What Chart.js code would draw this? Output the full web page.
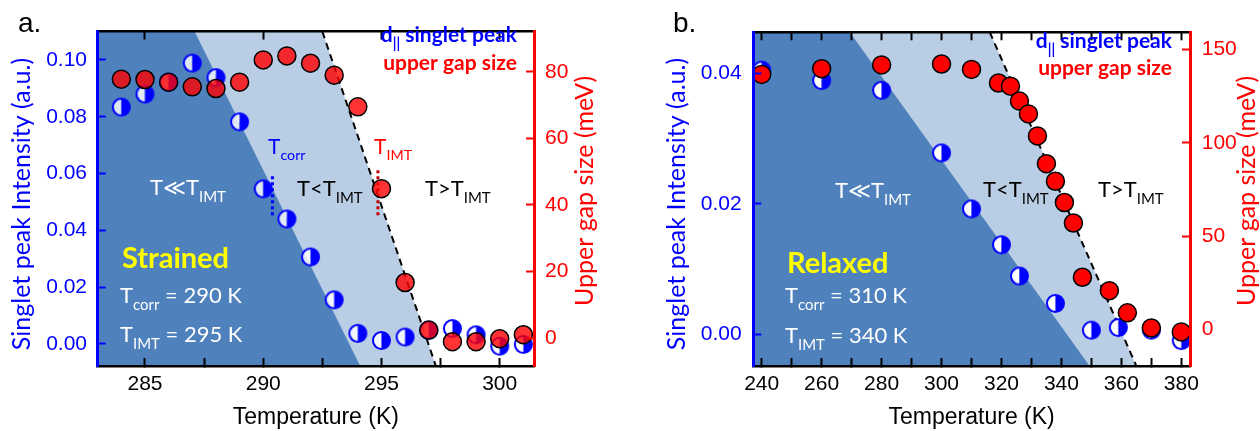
<!DOCTYPE html>
<html>
<head>
<meta charset="utf-8">
<script src="https://cdn.jsdelivr.net/npm/chart.js@4.4.1/dist/chart.umd.min.js"></script>
<style>
  html, body { margin: 0; padding: 0; background: #fff; }
  #wrap { position: relative; width: 1260px; height: 431px; }
  .panel { position: absolute; top: 0; width: 630px; height: 431px; }
</style>
</head>
<body>
<div id="wrap">
  <div class="panel" style="left:0"><canvas id="chartA" width="630" height="431"></canvas></div>
  <div class="panel" style="left:630px"><canvas id="chartB" width="630" height="431"></canvas></div>
</div>
<script>
// ---- panel a: strained film ----
const tempA = [284, 285, 286, 287, 288, 289, 290, 291, 292, 293, 294, 295, 296, 297, 298, 299, 300, 301];
const singletA = [0.0834, 0.0880, 0.0922, 0.0989, 0.0938, 0.0782, 0.0546, 0.0440, 0.0306, 0.0155, 0.0037, 0.0012, 0.0024, 0.0048, 0.0054, 0.0032, -0.0008, -0.0002];
const gapA = [77.8, 77.7, 76.9, 75.5, 75.0, 76.9, 83.6, 84.8, 82.6, 79.0, 69.5, 44.9, 16.7, 2.4, -1.1, -1.1, -0.2, 1.0];
const xRangeA = [283, 301.45];
const singletRangeA = [-0.0078, 0.110];
const gapRangeA = [-8.4, 92.1];
const xTicksA = [285, 287.5, 290, 292.5, 295, 297.5, 300];
const xLabelsA = [285, 290, 295, 300];
const singletTicksA = [0, 0.02, 0.04, 0.06, 0.08, 0.10];
const gapTicksA = [0, 20, 40, 60, 80];
// temperature where each shaded region ends, at the top and at the bottom of the plot
const darkEdgeA = [287.1, 294.1];
const lightEdgeA = [292.5, 297.3];
// dotted markers under the T_corr / T_IMT labels
const tcorrLineA = [[290.39, 0.0453], [290.39, 0.0601]];
const timtLineA = [[294.85, 0.0453], [294.85, 0.0614]];

// ---- panel b: relaxed film ----
const tempSingletB = [240, 260, 280, 300, 310, 320, 326, 338, 350, 359, 370, 380];
const singletB = [0.0405, 0.0389, 0.0374, 0.0278, 0.0192, 0.0137, 0.0089, 0.0047, 0.0006, 0.0010, 0.0006, -0.0010];
const tempGapB = [240, 260, 280, 300, 310, 319, 323, 326, 329, 332, 335, 338, 341, 344, 347, 356, 362, 370, 380];
const gapB = [136.7, 139.8, 141.8, 142.3, 139.4, 132.1, 130.4, 122.4, 115.5, 103.7, 88.8, 79.4, 68.0, 57.0, 27.9, 20.7, 8.8, 0.7, -1.4];
const xRangeB = [237.2, 382.9];
const singletRangeB = [-0.0049, 0.0463];
const gapRangeB = [-19.7, 159.3];
const xTicksB = [240, 250, 260, 270, 280, 290, 300, 310, 320, 330, 340, 350, 360, 370, 380];
const xLabelsB = [240, 260, 280, 300, 320, 340, 360, 380];
const singletTicksB = [0, 0.02, 0.04];
const gapTicksB = [0, 50, 100, 150];
const darkEdgeB = [269.4, 349.4];
const lightEdgeB = [316.1, 365.0];

const AXIS_FONT = "'Liberation Sans', Arial, sans-serif";
const NOTE_FONT = "Lato, 'Open Sans', sans-serif";
const BLUE = '#0000ff';
const RED = '#ff0000';

// half filled disc used for the singlet peak points
function halfDisc(leftColor) {
  const r = 8.5, lw = 2, s = 2 * (r + lw);
  const c = document.createElement('canvas');
  c.width = s; c.height = s;
  const g = c.getContext('2d');
  const m = s / 2;
  g.beginPath(); g.arc(m, m, r, Math.PI / 2, Math.PI * 1.5); g.closePath();
  g.fillStyle = leftColor; g.fill();
  g.beginPath(); g.arc(m, m, r, -Math.PI / 2, Math.PI / 2); g.closePath();
  g.fillStyle = BLUE; g.fill();
  g.beginPath(); g.arc(m, m, r, 0, Math.PI * 2);
  g.lineWidth = lw; g.strokeStyle = BLUE; g.stroke();
  return c;
}

// text with optional subscripts: plain strings are normal runs, [str] is a subscript
function drawNote(ctx, n) {
  ctx.save();
  ctx.fillStyle = n.color;
  ctx.textBaseline = n.rot ? 'middle' : 'alphabetic';
  const family = n.family || NOTE_FONT;
  const weight = n.bold ? 'bold ' : '';
  const runs = n.parts.map(part => {
    const sub = Array.isArray(part);
    const font = weight + (sub ? n.size * 0.68 : n.size) + 'px ' + family;
    ctx.font = font;
    const text = sub ? part[0] : part;
    return { text, font, sub, w: ctx.measureText(text).width };
  });
  const total = runs.reduce((s, r) => s + r.w, 0);
  ctx.translate(n.x, n.y);
  if (n.rot) ctx.rotate(-Math.PI / 2);
  let x = n.align === 'right' ? -total : (n.align === 'center' ? -total / 2 : 0);
  runs.forEach(r => {
    ctx.font = r.font;
    ctx.fillText(r.text, x, r.sub ? n.size * 0.3 : 0);
    x += r.w;
  });
  ctx.restore();
}

function notesPlugin(notes) {
  return {
    id: 'notes',
    afterDraw(chart) { notes.forEach(n => drawNote(chart.ctx, n)); }
  };
}

function region(xStart, edge, yr) {
  return [{ x: xStart, y: yr[1] }, { x: edge[0], y: yr[1] }, { x: edge[1], y: yr[0] }];
}

function buildPanel(canvasId, p) {
  const tickFont = { family: AXIS_FONT, size: 21 };
  const setTicks = vals => axis => { axis.ticks = vals.map(v => ({ value: v })); };
  const toPts = (xs, ys) => xs.map((x, i) => ({ x: x, y: ys[i] }));
  // ticks point into the plot, drawn above the shaded regions
  const tickGrid = color => ({ drawOnChartArea: false, tickLength: -8, tickWidth: 2, tickColor: color, z: 1 });
  const xr = p.xRange, yr = p.singletRange;

  const datasets = [
    { label: 'upper gap size', data: toPts(p.tempGap, p.gap), yAxisID: 'y1',
      pointStyle: 'circle', pointRadius: 9, backgroundColor: p.redFill,
      borderColor: '#000', borderWidth: 1.5, clip: false, order: 0 },
    { label: 'singlet peak', data: toPts(p.tempSinglet, p.singlet), yAxisID: 'y',
      pointStyle: halfDisc(p.halfFill), pointRadius: 10, clip: false, order: 1 }
  ];
  p.markLines.forEach(m => datasets.push({
    type: 'line', data: m.pts.map(q => ({ x: q[0], y: q[1] })), yAxisID: 'y',
    borderColor: m.color, borderWidth: 3, borderDash: [3, 3], pointRadius: 0, fill: false, order: 2
  }));
  datasets.push(
    { type: 'line', data: [{ x: p.lightEdge[0], y: yr[1] }, { x: p.lightEdge[1], y: yr[0] }], yAxisID: 'y',
      borderColor: '#000', borderWidth: 2, borderDash: [7, 5], pointRadius: 0, fill: false, order: 3 },
    { type: 'line', data: region(xr[0], p.darkEdge, yr), yAxisID: 'y',
      borderColor: 'rgba(0,0,0,0)', backgroundColor: '#4f81bd', pointRadius: 0, fill: 'start', order: 4 },
    { type: 'line', data: region(xr[0], p.lightEdge, yr), yAxisID: 'y',
      borderColor: 'rgba(0,0,0,0)', backgroundColor: '#b9cde5', pointRadius: 0, fill: 'start', order: 5 }
  );

  return new Chart(document.getElementById(canvasId), {
    type: 'scatter',
    data: { datasets: datasets },
    plugins: [notesPlugin(p.notes)],
    options: {
      responsive: false,
      animation: false,
      events: [],
      layout: { padding: 0 },
      plugins: { legend: { display: false }, tooltip: { enabled: false } },
      scales: {
        x: {
          type: 'linear', position: 'bottom', min: xr[0], max: xr[1],
          afterBuildTicks: setTicks(p.xTicks),
          afterFit: a => { a.height = 65; },
          ticks: { autoSkip: false, maxRotation: 0, color: '#000', font: tickFont, padding: 14,
                   callback: v => p.xLabels.includes(v) ? String(v) : '' },
          grid: tickGrid('#000'),
          border: { color: '#000', width: 2.5, z: 1 },
          title: { display: true, text: 'Temperature (K)', color: '#000',
                   font: { family: AXIS_FONT, size: 23 }, padding: 0 }
        },
        xTop: {
          type: 'linear', position: 'top', min: xr[0], max: xr[1],
          afterBuildTicks: setTicks(p.xTopTicks),
          afterFit: a => { a.height = 15; },
          ticks: { display: false },
          grid: tickGrid('#000'),
          border: { color: '#000', width: 2.5, z: 1 }
        },
        y: {
          type: 'linear', position: 'left', min: yr[0], max: yr[1],
          afterBuildTicks: setTicks(p.singletTicks),
          afterFit: a => { a.width = p.leftW; },
          ticks: { color: BLUE, font: tickFont, padding: p.leftPad, callback: v => v.toFixed(2) },
          grid: tickGrid(BLUE),
          border: { color: BLUE, width: 3, z: 1 }
        },
        y1: {
          type: 'linear', position: 'right', min: p.gapRange[0], max: p.gapRange[1],
          afterBuildTicks: setTicks(p.gapTicks),
          afterFit: a => { a.width = p.rightW; },
          ticks: { color: RED, font: tickFont, padding: p.rightPad, callback: v => String(v) },
          grid: tickGrid(RED),
          border: { color: RED, width: 3, z: 1 }
        }
      }
    }
  });
}

const leftTitle = 'Singlet peak Intensity (a.u.)';
const rightTitle = 'Upper gap size (meV)';

buildPanel('chartA', {
  tempSinglet: tempA, singlet: singletA, tempGap: tempA, gap: gapA,
  xRange: xRangeA, singletRange: singletRangeA, gapRange: gapRangeA,
  xTicks: xTicksA, xTopTicks: xLabelsA, xLabels: xLabelsA,
  singletTicks: singletTicksA, gapTicks: gapTicksA,
  darkEdge: darkEdgeA, lightEdge: lightEdgeA,
  markLines: [{ pts: tcorrLineA, color: BLUE }, { pts: timtLineA, color: '#c00000' }],
  redFill: 'rgba(255,0,0,0.8)', halfFill: 'rgba(255,255,255,0.82)',
  leftW: 97.7, rightW: 96, leftPad: 18.7, rightPad: 19,
  notes: [
    { x: 18, y: 32, parts: ['a.'], size: 28, family: AXIS_FONT, color: '#000' },
    { x: 22, y: 204, rot: true, align: 'center', parts: [leftTitle], size: 25, color: BLUE },
    { x: 585, y: 191, rot: true, align: 'center', parts: [rightTitle], size: 25, color: RED },
    { x: 150, y: 195, parts: ['T≪T', ['IMT']], size: 22, color: '#fff' },
    { x: 297, y: 196, parts: ['T<T', ['IMT']], size: 22, color: '#000' },
    { x: 425, y: 196, parts: ['T>T', ['IMT']], size: 22, color: '#000' },
    { x: 122, y: 268, parts: ['Strained'], size: 29, bold: true, color: '#ffff00' },
    { x: 120, y: 303, parts: ['T', ['corr'], ' = 290 K'], size: 22, color: '#fff' },
    { x: 120, y: 342, parts: ['T', ['IMT'], ' = 295 K'], size: 22, color: '#fff' },
    { x: 517, y: 42, align: 'right', parts: ['d', ['||'], ' singlet peak'], size: 21, bold: true, color: BLUE },
    { x: 517, y: 70, align: 'right', parts: ['upper gap size'], size: 21, bold: true, color: RED },
    { x: 268, y: 154, parts: ['T', ['corr']], size: 21, color: BLUE },
    { x: 374, y: 154, parts: ['T', ['IMT']], size: 21, color: RED }
  ]
});

buildPanel('chartB', {
  tempSinglet: tempSingletB, singlet: singletB, tempGap: tempGapB, gap: gapB,
  xRange: xRangeB, singletRange: singletRangeB, gapRange: gapRangeB,
  xTicks: xTicksB, xTopTicks: xTicksB, xLabels: xLabelsB,
  singletTicks: singletTicksB, gapTicks: gapTicksB,
  darkEdge: darkEdgeB, lightEdge: lightEdgeB,
  markLines: [],
  redFill: '#ff0000', halfFill: '#ffffff',
  leftW: 123.3, rightW: 70, leftPad: 19.6, rightPad: 19.7,
  notes: [
    { x: 43, y: 32, parts: ['b.'], size: 28, family: AXIS_FONT, color: '#000' },
    { x: 47, y: 204, rot: true, align: 'center', parts: [leftTitle], size: 25, color: BLUE },
    { x: 617, y: 191, rot: true, align: 'center', parts: [rightTitle], size: 25, color: RED },
    { x: 205, y: 198, parts: ['T≪T', ['IMT']], size: 22, color: '#fff' },
    { x: 353, y: 197, parts: ['T<T', ['IMT']], size: 22, color: '#000' },
    { x: 468, y: 197, parts: ['T>T', ['IMT']], size: 22, color: '#000' },
    { x: 157, y: 273, parts: ['Relaxed'], size: 29, bold: true, color: '#ffff00' },
    { x: 155, y: 303, parts: ['T', ['corr'], ' = 310 K'], size: 22, color: '#fff' },
    { x: 155, y: 343, parts: ['T', ['IMT'], ' = 340 K'], size: 22, color: '#fff' },
    { x: 542, y: 48, align: 'right', parts: ['d', ['||'], ' singlet peak'], size: 21, bold: true, color: BLUE },
    { x: 542, y: 75, align: 'right', parts: ['upper gap size'], size: 21, bold: true, color: RED }
  ]
});
</script>
</body>
</html>
